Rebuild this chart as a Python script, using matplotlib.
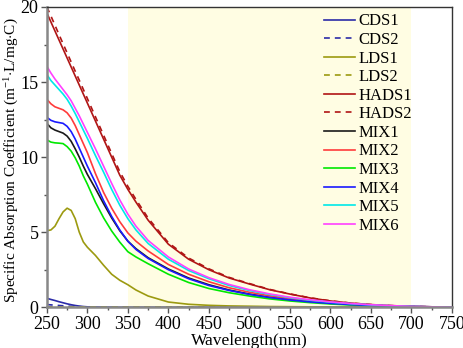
import matplotlib
matplotlib.use("Agg")
import matplotlib.pyplot as plt
from matplotlib.ticker import MultipleLocator

plt.rcParams['font.family'] = ['Liberation Serif', 'DejaVu Serif']
plt.rcParams['mathtext.fontset'] = 'custom'
plt.rcParams['mathtext.rm'] = 'Liberation Serif'
plt.rcParams['mathtext.it'] = 'Liberation Serif:italic'

wavelength = [250, 255, 260, 265, 270, 275, 280, 285, 290, 295, 300, 310, 320, 330, 340, 350,
              360, 375, 400, 425, 450, 475, 500, 525, 550, 575, 600, 625, 650, 675, 700, 725, 750]

cds1 = [0.60, 0.52, 0.45, 0.37, 0.30, 0.23, 0.17, 0.12, 0.08, 0.05, 0.03, 0.02, 0.01, 0.01, 0.0, 0.0,
        0.0, 0.0, 0.0, 0.0, 0.0, 0.0, 0.0, 0.0, 0.0, 0.0, 0.0, 0.0, 0.0, 0.0, 0.0, 0.0, 0.0]
cds2 = [0.18, 0.16, 0.14, 0.12, 0.10, 0.08, 0.06, 0.05, 0.04, 0.02, 0.01, 0.01, 0.0, 0.0, 0.0, 0.0,
        0.0, 0.0, 0.0, 0.0, 0.0, 0.0, 0.0, 0.0, 0.0, 0.0, 0.0, 0.0, 0.0, 0.0, 0.0, 0.0, 0.0]
lds1 = [5.10, 5.15, 5.40, 5.90, 6.35, 6.60, 6.45, 5.90, 5.00, 4.35, 4.00, 3.45, 2.80, 2.20, 1.80, 1.50,
        1.15, 0.75, 0.35, 0.20, 0.13, 0.09, 0.07, 0.05, 0.04, 0.03, 0.02, 0.02, 0.01, 0.01, 0.01, 0.0, 0.0]
lds2 = [0.03, 0.03, 0.03, 0.03, 0.03, 0.03, 0.03, 0.03, 0.02, 0.02, 0.02, 0.02, 0.02, 0.02, 0.02, 0.02,
        0.02, 0.02, 0.01, 0.01, 0.01, 0.01, 0.01, 0.01, 0.01, 0.01, 0.01, 0.0, 0.0, 0.0, 0.0, 0.0, 0.0]
hads1 = [19.60, 19.00, 18.40, 17.80, 17.20, 16.60, 16.00, 15.40, 14.80, 14.20, 13.60, 12.40, 11.20, 10.00, 8.80, 7.85,
         7.00, 5.80, 4.20, 3.20, 2.50, 1.95, 1.55, 1.17, 0.88, 0.62, 0.42, 0.28, 0.18, 0.11, 0.06, 0.03, 0.01]
hads2 = [20.00, 19.40, 18.78, 18.16, 17.55, 16.94, 16.33, 15.72, 15.12, 14.51, 13.90, 12.68, 11.46, 10.24, 9.03, 8.05,
         7.18, 5.94, 4.30, 3.28, 2.56, 1.99, 1.58, 1.19, 0.89, 0.63, 0.43, 0.28, 0.18, 0.11, 0.06, 0.03, 0.01]
mix1 = [12.25, 11.95, 11.80, 11.70, 11.60, 11.40, 11.05, 10.55, 10.00, 9.40, 8.85, 7.90, 6.90, 5.95, 5.10, 4.40,
        3.90, 3.30, 2.55, 1.95, 1.50, 1.15, 0.88, 0.66, 0.50, 0.37, 0.27, 0.19, 0.12, 0.08, 0.05, 0.03, 0.01]
mix2 = [13.85, 13.55, 13.35, 13.25, 13.15, 12.95, 12.60, 12.10, 11.50, 10.90, 10.30, 8.90, 7.65, 6.60, 5.70, 4.95,
        4.40, 3.75, 2.85, 2.20, 1.70, 1.30, 1.00, 0.76, 0.57, 0.42, 0.30, 0.21, 0.14, 0.09, 0.05, 0.03, 0.01]
mix3 = [11.15, 11.00, 10.95, 10.93, 10.90, 10.70, 10.40, 9.95, 9.40, 8.75, 8.20, 6.99, 5.96, 5.08, 4.34, 3.70,
        3.35, 2.90, 2.20, 1.65, 1.25, 0.97, 0.75, 0.56, 0.42, 0.31, 0.22, 0.15, 0.10, 0.06, 0.035, 0.02, 0.01]
mix4 = [12.65, 12.45, 12.35, 12.30, 12.25, 12.05, 11.70, 11.20, 10.60, 10.00, 9.40, 8.30, 7.10, 6.05, 5.15, 4.40,
        3.85, 3.25, 2.50, 1.90, 1.45, 1.12, 0.86, 0.65, 0.49, 0.36, 0.26, 0.18, 0.12, 0.075, 0.045, 0.025, 0.01]
mix5 = [15.50, 15.10, 14.80, 14.50, 14.20, 13.85, 13.40, 12.90, 12.35, 11.80, 11.25, 10.10, 9.00, 7.85, 6.80, 5.90,
        5.15, 4.25, 3.20, 2.45, 1.90, 1.45, 1.12, 0.85, 0.64, 0.47, 0.34, 0.24, 0.16, 0.10, 0.06, 0.03, 0.01]
mix6 = [16.05, 15.60, 15.20, 14.85, 14.50, 14.15, 13.75, 13.25, 12.75, 12.20, 11.65, 10.55, 9.40, 8.25, 7.15, 6.20,
        5.40, 4.45, 3.35, 2.55, 1.97, 1.52, 1.17, 0.89, 0.67, 0.50, 0.36, 0.25, 0.17, 0.11, 0.06, 0.03, 0.01]

series_names = ['CDS1', 'CDS2', 'LDS1', 'LDS2', 'HADS1', 'HADS2',
                'MIX1', 'MIX2', 'MIX3', 'MIX4', 'MIX5', 'MIX6']
series_values = [cds1, cds2, lds1, lds2, hads1, hads2, mix1, mix2, mix3, mix4, mix5, mix6]
colors = ['#2b2ba8', '#2b2ba8', '#9c9a10', '#9c9a10', '#b01515', '#b01515',
          '#1a1a1a', '#ff3b3b', '#00e800', '#1a1aff', '#00e8e8', '#ff40ff']
styles = ['-', '--', '-', '--', '-', '--', '-', '-', '-', '-', '-', '-']

fig = plt.figure(figsize=(4.64, 3.48), dpi=100)
ax = fig.add_axes([0.101, 0.117, 0.873, 0.863])

ax.axvspan(350, 700, color='#fffde3', zorder=0, lw=0)

for name, vals, c, ls in zip(series_names, series_values, colors, styles):
    if ls == '--':
        ax.plot(wavelength, vals, color=c, lw=1.2, ls=(0, (3.5, 3)), label=name)
    else:
        ax.plot(wavelength, vals, color=c, lw=1.2, label=name)

ax.set_xlim(250, 750)
ax.set_ylim(0, 20)
ax.xaxis.set_major_locator(MultipleLocator(50))
ax.xaxis.set_minor_locator(MultipleLocator(25))
ax.yaxis.set_major_locator(MultipleLocator(5))
ax.yaxis.set_minor_locator(MultipleLocator(2.5))

for s in ['left', 'bottom']:
    ax.spines[s].set_color('#888888')
    ax.spines[s].set_linewidth(1.8)
for s in ['top', 'right']:
    ax.spines[s].set_color('#333333')
    ax.spines[s].set_linewidth(1.0)

ax.tick_params(which='major', direction='out', length=4, width=1, color='#555555', labelsize=13, pad=2)
ax.tick_params(which='minor', direction='out', length=2.5, width=1, color='#555555')

ax.set_xlabel('Wavelength(nm)', fontsize=12.5, labelpad=0)
ax.set_ylabel(r'Specific Absorption Coefficient (m$^{-1}$$\cdot$L/mg$\cdot$C)', fontsize=11)
ax.yaxis.set_label_coords(-0.064, 0.49)

ax.legend(loc='upper left', bbox_to_anchor=(0.66, 1.012), frameon=False, fontsize=12,
          handlelength=1.85, handletextpad=0.2, labelspacing=0.155, borderaxespad=0.2)

fig.savefig('out.png', dpi=100)
